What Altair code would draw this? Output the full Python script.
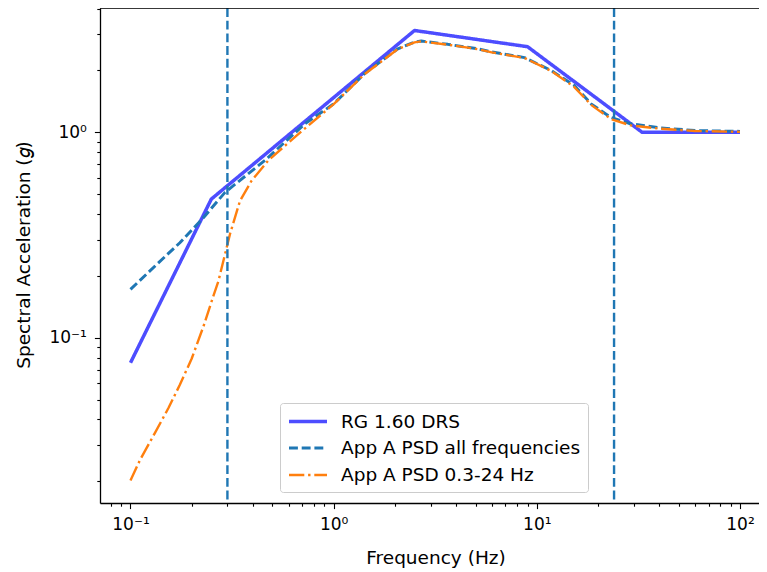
import altair as alt
import pandas as pd

# ---- data ----
series_names = ["RG 1.60 DRS", "App A PSD all frequencies", "App A PSD 0.3-24 Hz"]
series_colors = ["#4d4dff", "#1f77b4", "#ff7f0e"]

rg_freq = [0.1, 0.25, 2.5, 9.0, 33.0, 100.0]
rg_sa = [0.0755, 0.473, 3.13, 2.61, 1.0, 1.0]

all_freq = [0.1, 0.135, 0.175, 0.229, 0.292, 0.459, 0.722, 1.0, 1.42, 2.07, 2.5,
            2.7, 3.65, 5.1, 6.0, 8.7, 11.75, 15.3, 18.5, 23.2, 29.0, 40.8, 60.0, 100.0]
all_sa = [0.172, 0.228, 0.29, 0.385, 0.51, 0.73, 1.10, 1.375, 1.93, 2.55, 2.75,
          2.78, 2.68, 2.55, 2.46, 2.31, 2.0, 1.69, 1.375, 1.18, 1.10, 1.05, 1.02, 1.01]

band_freq = [0.1, 0.1116, 0.132, 0.154, 0.175, 0.2, 0.229, 0.256, 0.271, 0.292, 0.309,
             0.346, 0.394, 0.477, 0.67, 1.0, 1.42, 2.07, 2.5, 2.7, 3.65, 5.1, 6.0, 8.7,
             11.75, 15.3, 18.5, 23.2, 29.0, 40.8, 60.0, 100.0]
band_sa = [0.0202, 0.0255, 0.0344, 0.0456, 0.059, 0.079, 0.114, 0.16, 0.189, 0.255, 0.32,
           0.464, 0.58, 0.73, 0.98, 1.37, 1.92, 2.54, 2.74, 2.77, 2.67, 2.54, 2.45, 2.30,
           1.99, 1.66, 1.36, 1.16, 1.08, 1.04, 1.015, 1.005]

cutoff_freq = [0.3, 24.0]

x_ticks = [0.08, 0.09, 0.1, 0.2, 0.3, 0.4, 0.5, 0.6, 0.7, 0.8, 0.9, 1, 2, 3, 4, 5, 6, 7, 8, 9,
           10, 20, 30, 40, 50, 60, 70, 80, 90, 100]
y_ticks = [0.02, 0.03, 0.04, 0.05, 0.06, 0.07, 0.08, 0.09, 0.1, 0.2, 0.3, 0.4, 0.5, 0.6, 0.7,
           0.8, 0.9, 1, 2, 3, 4]

# ---- layout ----
W, H = 659, 495
XDOM = [10 ** -1.15, 10 ** 2.0936]
YDOM = [10 ** -1.8045, 10 ** 0.605]
FONT = "DejaVu Sans"

rows = []
for name, fs, vs in [(series_names[0], rg_freq, rg_sa),
                     (series_names[1], all_freq, all_sa),
                     (series_names[2], band_freq, band_sa)]:
    for f, v in zip(fs, vs):
        rows.append({"freq": f, "sa": v, "series": name})
df = pd.DataFrame(rows)

major = "datum.value == 0.01 || datum.value == 0.1 || datum.value == 1 || datum.value == 10 || datum.value == 100"
label_expr = ("datum.value == 0.1 ? '10⁻¹' : datum.value == 1 ? '10⁰' : "
              "datum.value == 10 ? '10¹' : datum.value == 100 ? '10²' : ''")

common_axis = dict(
    grid=False, labelExpr=label_expr, labelOverlap=False, labelFlush=False,
    tickSize={"condition": {"test": major, "value": 5.6}, "value": 3.2},
    tickWidth=1.1, tickColor="black", domainColor="black", domainWidth=1.3,
    labelFont=FONT, labelFontSize=17, labelColor="black",
    titleFont=FONT, titleFontSize=18.5, titleFontWeight="normal", titleColor="black",
    titleBaseline="alphabetic", titleAlign="center",
)

x_enc = alt.X("freq:Q", scale=alt.Scale(type="log", domain=XDOM, nice=False),
              axis=alt.Axis(values=x_ticks, title="Frequency (Hz)", labelPadding=8,
                            titleX=335.5, titleY=60.0, **common_axis))
y_enc = alt.Y("sa:Q", scale=alt.Scale(type="log", domain=YDOM, nice=False),
              axis=alt.Axis(values=y_ticks, title="Spectral Acceleration (𝑔)", labelPadding=8,
                            titleX=-70.7, titleY=246.5, titleAngle=270, **common_axis))

legend = alt.Legend(
    title=None, orient="none", legendX=180, legendY=395,
    fillColor="white", strokeColor="#cccccc", cornerRadius=3, padding=7,
    symbolType="M-1,0H3", symbolSize=361, labelOffset=31, rowPadding=6,
    labelFont=FONT, labelFontSize=18.5, labelColor="black", labelLimit=0,
)

lines = alt.Chart(df).mark_line(strokeJoin="round").encode(
    x=x_enc, y=y_enc,
    color=alt.Color("series:N", scale=alt.Scale(domain=series_names, range=series_colors), legend=legend),
    strokeDash=alt.StrokeDash("series:N", scale=alt.Scale(domain=series_names,
                              range=[[1, 0], [8.9, 3.8], [15.3, 3.8, 2.4, 3.8]]), legend=legend),
    strokeWidth=alt.StrokeWidth("series:N", scale=alt.Scale(domain=series_names, range=[3.5, 2.4, 2.4]),
                                legend=legend),
)

vlines = alt.Chart(pd.DataFrame({"freq": cutoff_freq})).mark_rule(
    color="#1f77b4", strokeWidth=2.4, strokeDash=[8.9, 3.8]
).encode(x=alt.X("freq:Q"))

top_spine = alt.Chart(pd.DataFrame({"a": [0]})).mark_rule(color="black", strokeWidth=1.3).encode(
    x=alt.value(0), x2=alt.value(W), y=alt.value(0)
)

chart = alt.layer(lines, vlines, top_spine).properties(
    width=W, height=H,
    autosize=alt.AutoSizeParams(type="none"),
    padding={"left": 92, "top": 0, "right": 0, "bottom": 65},
).configure_view(stroke=None).configure(background="white")

chart.save("out.html", embed_options={"renderer": "svg", "actions": False})
